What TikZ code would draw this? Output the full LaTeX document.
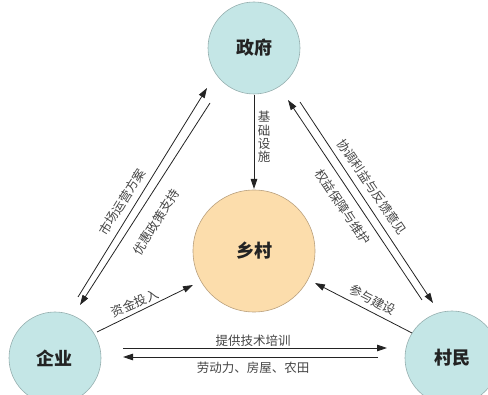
\documentclass[tikz,border=0pt]{standalone}
\usepackage{fontspec}
\newfontfamily\cjk{Noto Sans CJK SC}
\usetikzlibrary{calc,arrows.meta}
\definecolor{cyanfill}{RGB}{196,230,230}
\definecolor{cyanline}{RGB}{150,175,175}
\definecolor{orfill}{RGB}{252,221,172}
\definecolor{orline}{RGB}{185,160,125}
\definecolor{ink}{RGB}{35,35,35}
\begin{document}
\begin{tikzpicture}[x=1pt,y=-1pt,
  actor/.style={circle,fill=cyanfill,draw=cyanline,line width=0.6pt,minimum size=92pt,inner sep=0pt,font=\cjk\bfseries\fontsize{18}{20}\selectfont,text=ink},
  village/.style={circle,fill=orfill,draw=orline,line width=0.6pt,minimum size=122pt,inner sep=0pt,font=\cjk\bfseries\fontsize{18}{20}\selectfont,text=ink},
  arr/.style={draw=ink,line width=0.8pt,-{Triangle[length=10pt,width=6.5pt]}},
  lbl/.style={font=\cjk\fontsize{12.5}{13}\selectfont,text=ink!85,inner sep=1pt}]
\useasboundingbox (0,0) rectangle (488,395);
\clip (0,0) rectangle (488,395);
\node[actor] (zf) at (254,48) {政府};
\node[village] (xc) at (254,251) {乡村};
\node[actor] (qy) at (55,358) {企业};
\node[actor,minimum size=94pt] (cm) at (452,358) {村民};
% government -> village
\draw[arr] ($(zf)+(0,47)$) -- ($(xc)+(0,-62)$);
\node[lbl,align=center,font=\cjk\fontsize{12.5}{13.3}\selectfont] at (264,137) {基\\础\\设\\施};
% enterprise <-> government
\draw[arr] ($(qy)+(23,-61)$) -- ($(zf)+(-47,40)$);
\draw[arr] ($(zf)+(-44,55)$) -- ($(qy)+(25,-53)$);
\node[lbl,rotate=58] at (122,202) {市场运营方案};
\node[lbl,rotate=58] at (156,222) {优惠政策支持};
% villagers <-> government
\draw[arr] ($(cm)+(-30,-58)$) -- ($(zf)+(34,52)$);
\draw[arr] ($(zf)+(46,54)$) -- ($(cm)+(-19,-55)$);
\node[lbl,rotate=-56] at (372,187) {协调利益与反馈意见};
\node[lbl,rotate=-56] at (343,207) {权益保障与维护};
% enterprise -> village
\draw[arr] ($(qy)+(42,-26)$) -- ($(xc)+(-61,34)$);
\node[lbl,rotate=23] at (135,303) {资金投入};
% villagers -> village
\draw[arr] ($(cm)+(-40,-25)$) -- ($(xc)+(61,32)$);
\node[lbl,rotate=-27] at (373,300) {参与建设};
% enterprise <-> villagers
\draw[arr] ($(qy)+(68,-10)$) -- ($(cm)+(-65,-10)$);
\draw[arr] ($(cm)+(-74,-1)$) -- ($(qy)+(68,-1)$);
\node[lbl] at (253,341) {提供技术培训};
\node[lbl] at (253,368) {劳动力、房屋、农田};
\end{tikzpicture}
\end{document}
